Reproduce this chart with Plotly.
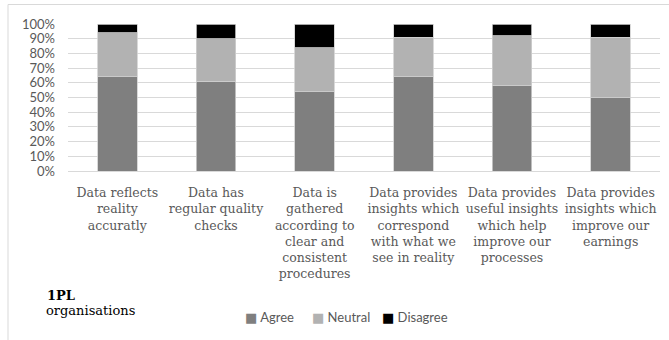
import plotly.graph_objects as go

categories = [
    "Data reflects<br>reality<br>accuratly",
    "Data has<br>regular quality<br>checks",
    "Data is<br>gathered<br>according to<br>clear and<br>consistent<br>procedures",
    "Data provides<br>insights which<br>correspond<br>with what we<br>see in reality",
    "Data provides<br>useful insights<br>which help<br>improve our<br>processes",
    "Data provides<br>insights which<br>improve our<br>earnings",
]
agree = [64, 61, 54, 64, 58, 50]
neutral = [30, 29, 30, 27, 34, 41]
disagree = [6, 10, 16, 9, 8, 9]

series_names = ["Agree", "Neutral", "Disagree"]
series_colors = ["#7f7f7f", "#b2b2b2", "#000000"]
y_ticks = [0, 10, 20, 30, 40, 50, 60, 70, 80, 90, 100]
y_tick_labels = [f"{v}%" for v in y_ticks]

SERIF = "DejaVu Serif"

W, H = 669, 340
L, R, T, B = 68, 9, 24, 169
plot_w = W - L - R
plot_h = H - T - B


def px_x(px):
    return (px - L) / plot_w


def px_y(py):
    return (H - B - py) / plot_h


fig = go.Figure()
for name, vals, col in zip(series_names, [agree, neutral, disagree], series_colors):
    fig.add_trace(go.Bar(
        x=categories, y=vals, name=name,
        marker=dict(color=col, line=dict(color="#d0d0d0", width=0.8)),
        width=0.4,
    ))

fig.update_layout(
    width=W, height=H,
    margin=dict(l=L, r=R, t=T, b=B),
    barmode="stack",
    plot_bgcolor="white",
    paper_bgcolor="white",
    showlegend=False,
    xaxis=dict(
        tickfont=dict(family=SERIF, size=12.5, color="#595959"),
        showgrid=False, showline=True, linecolor="#d9d9d9", linewidth=1,
        ticks="", ticklabelstandoff=10,
    ),
    yaxis=dict(
        range=[0, 100], tickvals=y_ticks, ticktext=y_tick_labels,
        tickfont=dict(family="Lato", size=13, color="#595959"),
        showgrid=True, gridcolor="#d9d9d9", gridwidth=1,
        zeroline=False, ticks="", ticklabelstandoff=12,
    ),
)

# Outer chart frame
fig.add_shape(type="rect", xref="paper", yref="paper",
              x0=px_x(8), x1=px_x(W + 20), y0=px_y(H + 20), y1=px_y(4.5),
              line=dict(color="#d9d9d9", width=1), fillcolor="rgba(0,0,0,0)",
              layer="below")

# Panel caption
fig.add_annotation(text="<b>1PL</b>", xref="paper", yref="paper",
                   x=px_x(45), y=px_y(295), xanchor="left", yanchor="middle",
                   showarrow=False,
                   font=dict(family=SERIF, size=13, color="#000000"))
fig.add_annotation(text="organisations", xref="paper", yref="paper",
                   x=px_x(44), y=px_y(310), xanchor="left", yanchor="middle",
                   showarrow=False,
                   font=dict(family=SERIF, size=13, color="#000000"))

# Compact legend row
legend_left_px = [243, 310, 380]
for name, col, lx in zip(series_names, series_colors, legend_left_px):
    fig.add_annotation(
        text=f'<span style="color:{col};font-family:DejaVu Sans">■</span> {name}',
        xref="paper", yref="paper", x=px_x(lx), y=px_y(316.5),
        xanchor="left", yanchor="middle", showarrow=False,
        font=dict(family="Lato", size=13, color="#595959"))

fig.write_html("out.html")
